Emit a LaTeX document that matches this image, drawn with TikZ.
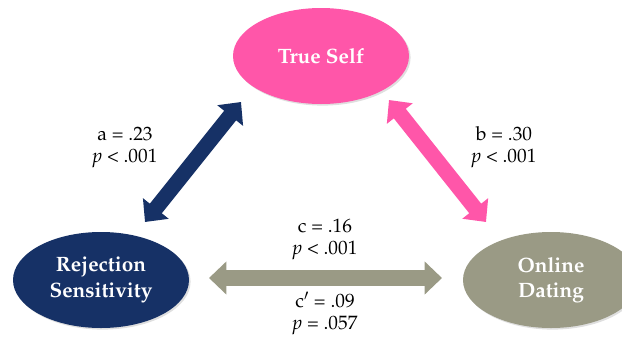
\documentclass[tikz,border=0pt]{standalone}
\usepackage[T1]{fontenc}
\usepackage{mathpazo}
\usetikzlibrary{arrows.meta,shapes.geometric,shadows}
\definecolor{rsnavy}{HTML}{163166}
\definecolor{tspink}{HTML}{FF56A9}
\definecolor{odgrey}{HTML}{9A9A85}
\tikzset{
  var/.style={ellipse, minimum width=132pt, minimum height=72pt, text=white,
    font=\bfseries\fontsize{15.6}{19}\selectfont, align=center,
    drop shadow={shadow xshift=1.2pt, shadow yshift=-1.2pt, opacity=0.25}},
  path/.style={line width=11.5pt, {Triangle[length=13pt,width=24pt]}-{Triangle[length=13pt,width=24pt]}},
  coef/.style={align=center, font=\fontsize{14.5}{16.5}\selectfont}
}
\begin{document}
\begin{tikzpicture}[x=0.75pt, y=-0.75pt]
  \useasboundingbox (0,0) rectangle (622,337); %
  \node[var, fill=tspink] (ts) at (321,56) {True Self}; %
  \node[var, fill=rsnavy] (rs) at (101,280) {Rejection\\Sensitivity}; %
  \node[var, fill=odgrey] (od) at (551,280) {Online\\Dating}; %
  \coordinate (a1) at (145,222); %
  \coordinate (a2) at (241,102); %
  \coordinate (b1) at (389,100); %
  \coordinate (b2) at (486,222); %
  \coordinate (c1) at (209,278); %
  \coordinate (c2) at (442,278); %
  \draw[path, rsnavy] (a1) -- (a2); %
  \draw[path, tspink] (b1) -- (b2); %
  \draw[path, odgrey] (c1) -- (c2); %
  \node[coef] (alab) at (125,147) {a = .23\\\textit{p} \textless{} .001}; %
  \node[coef] (blab) at (504,147) {b = .30\\\textit{p} \textless{} .001}; %
  \node[coef] (clab) at (325,239) {c = .16\\\textit{p} \textless{} .001}; %
  \node[coef] (cplab) at (325,313) {c$'$ = .09\\\textit{p} = .057}; %
\end{tikzpicture}
\end{document}
